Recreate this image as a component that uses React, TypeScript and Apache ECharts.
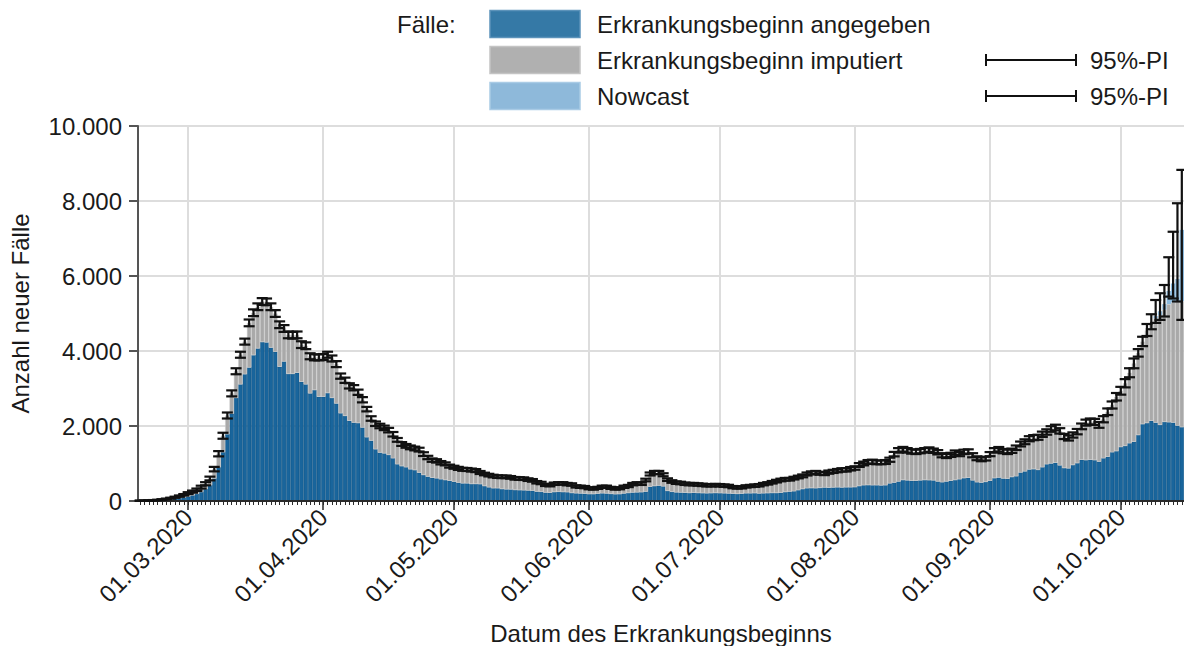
import React, { useEffect, useRef } from "react";
import * as echarts from "echarts";

// ---------- DATA (daily, 19.02.2020 – 15.10.2020) ----------
const START_UTC = Date.UTC(2020, 1, 19);
const DAY_COUNT = 240;

// Erkrankungsbeginn angegeben (dark blue)
const angegeben: number[] = [
  // Feb 19–29
  5, 6, 8, 12, 18, 25, 35, 45, 60, 75, 95,
  // Mar
  120, 150, 190, 240, 320, 420, 600, 900, 1300, 1780, 2330, 2750, 3110, 3380, 3560, 3890, 4070, 4240, 4230, 4090,
  3980, 3580, 3720, 3390, 3390, 3420, 3180, 3110, 2870, 2960, 2780,
  // Apr
  2780, 2880, 2750, 2600, 2340, 2270, 2140, 2090, 2080, 1960, 1700, 1610, 1380, 1290, 1270, 1230, 1140, 980, 930, 900,
  845, 825, 755, 695, 650, 620, 605, 580, 560, 540,
  // May
  515, 490, 470, 470, 455, 455, 450, 400, 365, 340, 340, 320, 310, 310, 295, 290, 285, 280, 275, 250,
  245, 225, 220, 240, 245, 240, 235, 215, 205, 200, 195,
  // Jun
  185, 185, 195, 205, 200, 190, 180, 185, 200, 215, 225, 230, 235, 250, 380, 400, 410, 390, 270, 245,
  230, 225, 220, 215, 220, 215, 210, 205, 210, 215,
  // Jul
  210, 205, 200, 195, 190, 195, 205, 205, 210, 200, 205, 210, 215, 215, 220, 240, 250, 260, 290, 320,
  340, 345, 340, 350, 360, 355, 360, 365, 360, 365, 365,
  // Aug
  370, 400, 420, 425, 420, 420, 415, 420, 470, 490, 520, 560, 550, 540, 540, 550, 560, 555, 550, 520,
  500, 520, 540, 560, 580, 610, 620, 550, 500, 490, 510,
  // Sep
  540, 610, 625, 600, 595, 640, 660, 760, 790, 840, 850, 830, 900, 980, 1000, 1020, 950, 880, 870, 960,
  1010, 1100, 1090, 1100, 1090, 1050, 1140, 1180, 1300, 1330,
  // Oct 1–15
  1440, 1470, 1540, 1580, 1760, 2050, 2080, 2140, 2090, 2030, 2110, 2100, 2090, 2010, 1970,
];

// Erkrankungsbeginn imputiert (grey)
const imputiert: number[] = [
  3, 4, 6, 8, 10, 15, 20, 30, 40, 55, 70,
  90, 100, 110, 130, 140, 180, 250, 360, 440, 500, 540, 710, 790, 870, 1190, 1130, 1110, 1080, 1080, 1090,
  1020, 1120, 880, 1040, 1030, 1010, 990, 1030, 990, 870, 1050,
  1060, 1020, 1050, 1050, 990, 950, 930, 930, 820, 740, 750, 590, 680, 710, 680, 660, 640, 650, 590, 570,
  585, 575, 615, 555, 510, 470, 465, 440, 430, 390,
  385, 380, 375, 370, 370, 355, 310, 320, 325, 325, 310, 325, 335, 320, 310, 310, 310, 290, 275, 250,
  235, 205, 200, 220, 225, 230, 215, 225, 185, 180, 175,
  155, 145, 155, 175, 180, 160, 150, 155, 180, 185, 225, 240, 225, 310, 340, 360, 350, 310, 300, 275,
  260, 255, 240, 235, 230, 225, 220, 215, 210, 210,
  210, 205, 200, 175, 170, 170, 185, 195, 200, 220, 245, 260, 285, 315, 340, 340, 330, 350, 350, 350,
  380, 405, 420, 390, 370, 415, 430, 445, 470, 465, 495,
  510, 560, 580, 615, 630, 610, 615, 620, 630, 760, 830, 820, 800, 780, 770, 780, 790, 815, 790, 780,
  720, 680, 690, 730, 670, 700, 700, 670, 640, 620, 620,
  710, 740, 755, 730, 715, 700, 760, 760, 790, 820, 840, 870, 880, 860, 920, 940, 920, 840, 810, 800,
  840, 890, 1000, 1020, 1020, 980, 1040, 1200, 1260, 1450,
  1500, 1670, 1880, 2090, 2190, 2200, 2470, 2610, 2780, 2930, 2990, 3150, 3210, 3310, 3360,
];

// Nowcast (light blue), only the last days: 09.10. – 15.10.
const nowcastFirstDate = "09.10.2020";
const nowcast: number[] = [60, 100, 150, 350, 500, 600, 1900];

// 95%-PI lower / upper bounds
const piLower: number[] = [
  5, 7, 10, 15, 22, 32, 45, 62, 85, 112, 145,
  185, 222, 268, 332, 418, 550, 790, 1190, 1660, 2200, 2790, 3380, 3820, 4170, 4660, 4930, 5090, 5230, 5220, 5090,
  4910, 4610, 4510, 4340, 4330, 4340, 4080, 4050, 3780, 3750, 3750,
  3760, 3820, 3720, 3570, 3260, 3150, 3000, 2950, 2830, 2630, 2390, 2140, 2000, 1940, 1890, 1830, 1720, 1580, 1470, 1420,
  1380, 1350, 1320, 1200, 1115, 1045, 1025, 975, 950, 890,
  860, 830, 805, 800, 785, 770, 720, 685, 655, 630, 615, 610, 610, 595, 570, 565, 560, 535, 515, 468,
  448, 400, 390, 428, 438, 438, 418, 408, 360, 350, 340,
  312, 302, 322, 350, 350, 322, 302, 312, 350, 370, 418, 438, 428, 525, 680, 718, 718, 660, 535, 486,
  456, 446, 428, 418, 418, 408, 398, 388, 388, 393,
  388, 378, 368, 340, 330, 335, 360, 370, 378, 388, 418, 438, 466, 495, 525, 545, 545, 574, 604, 632,
  680, 710, 718, 700, 690, 728, 748, 766, 786, 786, 814,
  834, 910, 950, 988, 998, 980, 980, 988, 1045, 1190, 1290, 1318, 1290, 1262, 1252, 1272, 1290, 1310, 1282, 1242,
  1165, 1145, 1175, 1232, 1195, 1252, 1262, 1165, 1088, 1060, 1080,
  1195, 1290, 1320, 1272, 1252, 1282, 1360, 1455, 1515, 1592, 1622, 1632, 1710, 1768, 1846, 1885, 1798, 1652, 1612, 1690,
  1778, 1914, 2010, 2040, 2030, 1952, 2098, 2292, 2466, 2680,
  2836, 3030, 3300, 3540, 3850, 4130, 4400, 4580, 4750, 4830, 4920, 5450, 5400, 5320, 4830,
];
const piUpper: number[] = [
  11, 13, 18, 25, 34, 48, 65, 88, 115, 148, 185,
  235, 278, 332, 408, 502, 650, 910, 1330, 1820, 2360, 2950, 3540, 3980, 4330, 4840, 5110, 5270, 5410, 5400, 5270,
  5090, 4790, 4690, 4520, 4510, 4520, 4260, 4230, 3940, 3910, 3910,
  3920, 3980, 3880, 3730, 3400, 3290, 3140, 3090, 2970, 2770, 2510, 2260, 2120, 2060, 2010, 1950, 1840, 1680, 1570, 1520,
  1480, 1450, 1420, 1300, 1205, 1135, 1115, 1065, 1030, 970,
  940, 910, 885, 880, 865, 850, 800, 755, 725, 700, 685, 680, 680, 665, 640, 635, 630, 605, 585, 532,
  512, 460, 450, 492, 502, 502, 482, 472, 420, 410, 400,
  368, 358, 378, 410, 410, 378, 358, 368, 410, 430, 482, 502, 492, 595, 760, 802, 802, 740, 605, 554,
  524, 514, 492, 482, 482, 472, 462, 452, 452, 457,
  452, 442, 432, 400, 390, 395, 420, 430, 442, 452, 482, 502, 534, 565, 595, 615, 615, 646, 676, 708,
  760, 790, 802, 780, 770, 812, 832, 854, 874, 874, 906,
  926, 1010, 1050, 1092, 1102, 1080, 1080, 1092, 1155, 1310, 1410, 1442, 1410, 1378, 1368, 1388, 1410, 1430, 1398, 1358,
  1275, 1255, 1285, 1348, 1305, 1368, 1378, 1275, 1192, 1160, 1180,
  1305, 1410, 1440, 1388, 1368, 1398, 1480, 1585, 1645, 1728, 1758, 1768, 1850, 1912, 1994, 2035, 1942, 1788, 1748, 1830,
  1922, 2066, 2170, 2200, 2190, 2108, 2262, 2468, 2654, 2880,
  3044, 3250, 3540, 3800, 4050, 4380, 4720, 4980, 5360, 5540, 5760, 6500, 7180, 7940, 8830,
];

const yTicks = { min: 0, max: 10000, step: 2000 };

const legendLabels = ["Erkrankungsbeginn angegeben", "Erkrankungsbeginn imputiert", "Nowcast"];
const legendTitle = "Fälle:";
const piLabel = "95%-PI";
const xTitle = "Datum des Erkrankungsbeginns";
const yTitle = "Anzahl neuer Fälle";

// ---------- helpers ----------
const pad2 = (n: number) => (n < 10 ? "0" + n : "" + n);
const dates: string[] = [];
for (let i = 0; i < DAY_COUNT; i++) {
  const d = new Date(START_UTC + i * 86400000);
  dates.push(`${pad2(d.getUTCDate())}.${pad2(d.getUTCMonth() + 1)}.${d.getUTCFullYear()}`);
}
const isMonthStart = (_i: number, v: string) => typeof v === "string" && v.startsWith("01.");
const fmtDE = (v: number) => String(v).replace(/\B(?=(\d{3})+(?!\d))/g, ".");

const FONT = "'Liberation Sans', Arial, Helvetica, sans-serif";
const TXT = "#1a1a1a";
const C_BLUE = "#19659c";
const C_GREY = "#a9a9a9";
const C_LIGHT = "#8bb9dc";

export default function App() {
  const ref = useRef<HTMLDivElement>(null);

  useEffect(() => {
    if (!ref.current) return;
    const chart = echarts.init(ref.current, undefined, { renderer: "svg" });

    const ncStart = dates.indexOf(nowcastFirstDate);
    const nowcastFull = dates.map((_, i) =>
      i >= ncStart && i < ncStart + nowcast.length ? nowcast[i - ncStart] : 0
    );
    const piData = dates.map((_, i) => [i, piLower[i], piUpper[i]]);

    const rowY = [24, 60, 96];
    const graphic: any[] = [
      {
        type: "text",
        x: 397,
        y: rowY[0],
        style: { text: legendTitle, font: `24px ${FONT}`, fill: TXT, verticalAlign: "middle" },
      },
    ];
    const swatch = [
      { fill: "#3579a6", stroke: "#5c93ba" },
      { fill: "#b0b0b0", stroke: "#c4c4c4" },
      { fill: "#8eb9da", stroke: "#a9cbe5" },
    ];
    legendLabels.forEach((lab, k) => {
      graphic.push({
        type: "rect",
        shape: { x: 490, y: rowY[k] - 13.5, width: 90, height: 27 },
        style: { fill: swatch[k].fill, stroke: swatch[k].stroke, lineWidth: 1.5 },
      });
      graphic.push({
        type: "text",
        x: 597,
        y: rowY[k],
        style: { text: lab, font: `24px ${FONT}`, fill: TXT, verticalAlign: "middle" },
      });
    });
    [1, 2].forEach((k) => {
      const y = rowY[k];
      const ls = { stroke: "#111", lineWidth: 2 };
      graphic.push({ type: "line", shape: { x1: 985, y1: y, x2: 1077, y2: y }, style: ls });
      graphic.push({ type: "line", shape: { x1: 986, y1: y - 6, x2: 986, y2: y + 6 }, style: ls });
      graphic.push({ type: "line", shape: { x1: 1076, y1: y - 6, x2: 1076, y2: y + 6 }, style: ls });
      graphic.push({
        type: "text",
        x: 1090,
        y,
        style: { text: piLabel, font: `24px ${FONT}`, fill: TXT, verticalAlign: "middle" },
      });
    });

    const option: any = {
      animation: false,
      backgroundColor: "#ffffff",
      textStyle: { fontFamily: FONT },
      grid: {
        left: 138,
        right: 0,
        top: 126,
        bottom: 145,
        containLabel: false,
        outerBoundsMode: "none",
      },
      graphic,
      xAxis: [
        {
          type: "category",
          data: dates,
          boundaryGap: true,
          axisLine: { show: true, lineStyle: { color: "#2a2a2a", width: 2 } },
          axisTick: {
            show: true,
            interval: isMonthStart,
            alignWithLabel: true,
            length: 9,
            lineStyle: { color: "#2a2a2a", width: 1.5 },
          },
          axisLabel: {
            interval: isMonthStart,
            rotate: 45,
            margin: 12,
            fontSize: 24,
            fontFamily: FONT,
            color: TXT,
          },
          splitLine: { show: false },
          name: xTitle,
          nameLocation: "middle",
          nameGap: 120,
          nameTextStyle: { fontSize: 24, fontFamily: FONT, color: TXT },
          z: 3,
        },
        {
          type: "category",
          data: dates,
          boundaryGap: true,
          position: "bottom",
          axisLine: { show: false },
          axisTick: {
            show: true,
            interval: 0,
            alignWithLabel: true,
            length: 4,
            lineStyle: { color: "#2a2a2a", width: 1 },
          },
          axisLabel: { show: false },
          splitLine: { show: false },
        },
        {
          type: "category",
          data: dates,
          boundaryGap: true,
          position: "bottom",
          axisLine: { show: false },
          axisTick: {
            show: true,
            inside: true,
            interval: isMonthStart,
            alignWithLabel: true,
            length: 375,
            lineStyle: { color: "#dddddd", width: 2 },
          },
          axisLabel: { show: false },
          splitLine: { show: false },
          z: -1,
        },
      ],
      yAxis: {
        type: "value",
        min: yTicks.min,
        max: yTicks.max,
        interval: yTicks.step,
        axisLine: { show: true, lineStyle: { color: "#555555", width: 2 } },
        axisTick: { show: true, length: 9, lineStyle: { color: "#555555", width: 2 } },
        axisLabel: {
          margin: 16,
          fontSize: 24,
          fontFamily: FONT,
          color: TXT,
          formatter: (v: number) => fmtDE(v),
        },
        splitLine: { show: true, lineStyle: { color: "#dddddd", width: 2 } },
        name: yTitle,
        nameLocation: "middle",
        nameGap: 106,
        nameRotate: 90,
        nameTextStyle: { fontSize: 24, fontFamily: FONT, color: TXT },
      },
      series: [
        {
          name: legendLabels[0],
          type: "bar",
          stack: "faelle",
          data: angegeben,
          barCategoryGap: "0%",
          itemStyle: { color: C_BLUE, borderColor: "#0d4e7e", borderWidth: 0.5 },
        },
        {
          name: legendLabels[1],
          type: "bar",
          stack: "faelle",
          data: imputiert,
          barCategoryGap: "0%",
          itemStyle: { color: C_GREY, borderColor: "#cdcdcd", borderWidth: 0.5 },
        },
        {
          name: legendLabels[2],
          type: "bar",
          stack: "faelle",
          data: nowcastFull,
          barCategoryGap: "0%",
          itemStyle: { color: C_LIGHT, borderWidth: 0 },
        },
        {
          name: piLabel,
          type: "custom",
          data: piData,
          encode: { x: 0, y: [1, 2] },
          z: 10,
          renderItem: (_params: any, api: any) => {
            const i = api.value(0);
            const lo = api.coord([i, api.value(1)]);
            const hi = api.coord([i, api.value(2)]);
            const hw = 5.5;
            const style = { stroke: "#111111", lineWidth: 2.2, fill: null };
            return {
              type: "group",
              children: [
                { type: "line", shape: { x1: lo[0], y1: lo[1], x2: hi[0], y2: hi[1] }, style },
                { type: "line", shape: { x1: lo[0] - hw, y1: lo[1], x2: lo[0] + hw, y2: lo[1] }, style },
                { type: "line", shape: { x1: hi[0] - hw, y1: hi[1], x2: hi[0] + hw, y2: hi[1] }, style },
              ],
            };
          },
        },
      ],
    };

    chart.setOption(option);
    return () => chart.dispose();
  }, []);

  return (
    <div
      ref={ref}
      style={{ position: "fixed", left: 0, top: 0, width: 1184, height: 646, background: "#fff" }}
    />
  );
}
